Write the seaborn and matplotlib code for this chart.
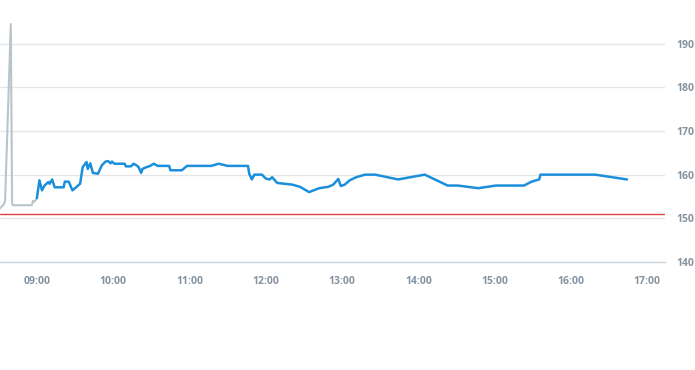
import pandas as pd
import matplotlib.pyplot as plt
import matplotlib.dates as mdates
import seaborn as sns

sns.set_style("white")
plt.rcParams['font.family'] = ['Open Sans', 'DejaVu Sans']

# pre-market (gray) series
pre_times = ["08:31:00", "08:34:00", "08:35:00", "08:39:30", "08:40:30", "08:41:00",
             "08:56:00", "08:57:00", "08:58:00", "09:00:00"]
pre_values = [152.3, 153.2, 154.0, 194.5, 153.5, 153.0, 153.0, 154.0, 153.8, 154.6]

# trading-day (blue) series
day_times = ["09:00", "09:02", "09:04", "09:06", "09:09", "09:10", "09:12", "09:14",
             "09:21", "09:22", "09:25", "09:28", "09:34", "09:36", "09:39", "09:40",
             "09:42", "09:44", "09:48", "09:51", "09:54", "09:56", "09:58", "09:59",
             "10:01", "10:09", "10:10", "10:14", "10:16", "10:19", "10:20", "10:22",
             "10:23", "10:26", "10:29", "10:32", "10:35", "10:44", "10:45", "10:54",
             "10:58", "11:17", "11:23", "11:30", "11:46", "11:47", "11:49", "11:51",
             "11:57", "12:00", "12:03", "12:05", "12:09", "12:21", "12:27", "12:34",
             "12:42", "12:49", "12:53", "12:57", "12:59", "13:02", "13:06", "13:11",
             "13:18", "13:26", "13:44", "14:05", "14:23", "14:31", "14:47", "15:01",
             "15:23", "15:29", "15:35", "15:36", "16:19", "16:44"]
day_values = [154.6, 158.7, 156.4, 157.5, 158.3, 157.9, 158.9, 157.1,
              157.1, 158.4, 158.4, 156.4, 157.9, 161.7, 162.9, 161.3,
              162.6, 160.4, 160.2, 162.1, 163.0, 163.1, 162.6, 163.0,
              162.5, 162.5, 161.9, 161.9, 162.5, 162.0, 161.7, 160.4,
              161.3, 161.7, 162.0, 162.5, 162.0, 162.0, 161.0, 161.0,
              162.0, 162.0, 162.5, 162.0, 162.0, 160.2, 158.9, 160.0,
              160.0, 159.1, 158.9, 159.4, 158.1, 157.7, 157.2, 156.0,
              156.9, 157.2, 157.7, 159.0, 157.4, 157.7, 158.7, 159.4,
              160.0, 160.0, 158.9, 160.0, 157.5, 157.5, 156.9, 157.5,
              157.5, 158.4, 158.9, 160.0, 160.0, 158.9]

ref_level = 151.0
y_ticks = [140, 150, 160, 170, 180, 190]
x_ticks = ["09:00", "10:00", "11:00", "12:00", "13:00", "14:00", "15:00", "16:00", "17:00"]

day = "2024-01-02 "
pre = pd.DataFrame({"time": pd.to_datetime([day + t for t in pre_times], format="%Y-%m-%d %H:%M:%S"),
                    "value": pre_values})
main = pd.DataFrame({"time": pd.to_datetime([day + t for t in day_times], format="%Y-%m-%d %H:%M"),
                     "value": day_values})

fig = plt.figure(figsize=(6.95, 3.7), dpi=100)
ax = fig.add_axes([0, 0.292, 0.957, 0.708])

sns.lineplot(data=pre, x="time", y="value", ax=ax, color="#b9c4cb", linewidth=1.5)
sns.lineplot(data=main, x="time", y="value", ax=ax, color="#1b8fdc", linewidth=1.8)
ax.axhline(ref_level, color="#d9463e", linewidth=1.0, zorder=3)

ax.set_ylim(140, 200)
ax.set_xlim(pd.Timestamp(day + "08:31"), pd.Timestamp(day + "17:14"))
ax.set_yticks(y_ticks)
ax.set_xticks(pd.to_datetime([day + t for t in x_ticks], format="%Y-%m-%d %H:%M"))
ax.xaxis.set_major_formatter(mdates.DateFormatter("%H:%M"))

ax.grid(axis="y", color="#e6e6e6", linewidth=0.9)
ax.set_axisbelow(True)
for s in ["top", "left", "right"]:
    ax.spines[s].set_visible(False)
ax.spines["bottom"].set_color("#ccd6e0")
ax.spines["bottom"].set_linewidth(1.0)

ax.yaxis.tick_right()
ax.tick_params(axis="y", length=0, pad=8, labelsize=7.5, labelcolor="#8593a0")
ax.tick_params(axis="x", length=4, color="#ccd6e0", pad=6, labelsize=7.5, labelcolor="#8593a0")
for lbl in ax.get_xticklabels() + ax.get_yticklabels():
    lbl.set_fontweight("bold")

ax.set_xlabel("")
ax.set_ylabel("")

plt.savefig("out.png", dpi=100)
